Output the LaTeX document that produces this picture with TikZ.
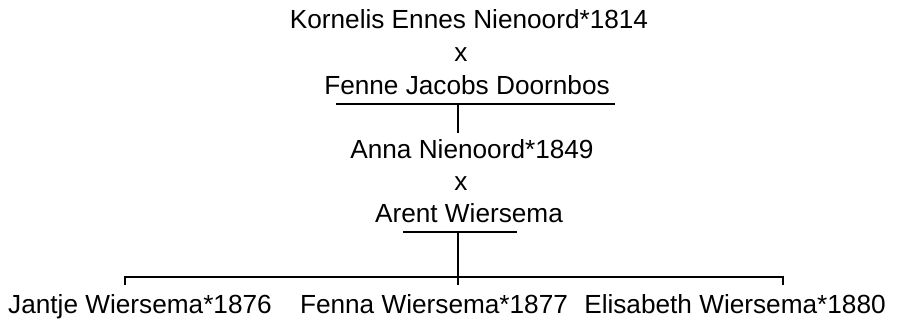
\documentclass[tikz,border=0pt]{standalone}
\usepackage{fontspec}
\setmainfont{Liberation Sans}
\begin{document}
\begin{tikzpicture}[x=1pt,y=-1pt,
  lbl/.style={anchor=base,inner sep=0pt,font=\fontsize{26.2}{31}\selectfont},
  ln/.style={line width=2.4pt}]
\useasboundingbox (0,0) rectangle (901,321);
\node[lbl] (k) at (469,29) {Kornelis Ennes Nienoord*1814};
\node[lbl] (x1) at (461,61.5) {x};
\node[lbl] (f) at (467,94) {Fenne Jacobs Doornbos};
\node[lbl] (a) at (472,158) {Anna Nienoord*1849};
\node[lbl] (x2) at (461,190) {x};
\node[lbl] (w) at (469,222) {Arent Wiersema};
\node[lbl] (c1) at (140,313) {Jantje Wiersema*1876};
\node[lbl] (c2) at (434,313) {Fenna Wiersema*1877};
\node[lbl] (c3) at (735,313) {Elisabeth Wiersema*1880};
\coordinate (t1l) at (336,104);
\coordinate (t1r) at (615,104);
\coordinate (t1m) at (458,104);
\coordinate (t1b) at (458,133);
\coordinate (t2l) at (403,232);
\coordinate (t2r) at (517,232);
\coordinate (t2m) at (458,232);
\coordinate (cm) at (458,285);
\coordinate (hl) at (125,277);
\coordinate (hr) at (783,277);
\coordinate (hlb) at (125,285);
\coordinate (hrb) at (783,285);
\draw[ln] (t1l) -- (t1r);
\draw[ln] (t1m) -- (t1b);
\draw[ln] (t2l) -- (t2r);
\draw[ln] (t2m) -- (cm);
\draw[ln] (hlb) -- (hl) -- (hr) -- (hrb);
\end{tikzpicture}
\end{document}
